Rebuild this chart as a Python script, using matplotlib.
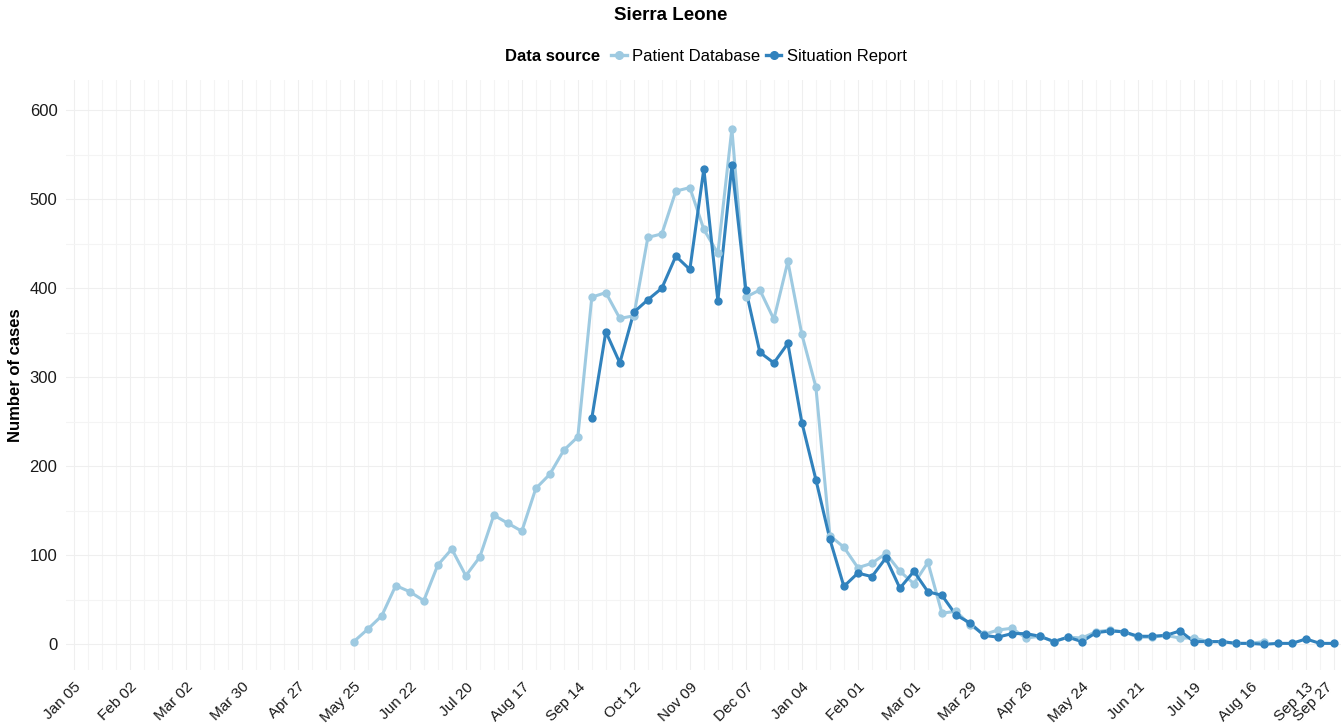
import pandas as pd
import matplotlib
matplotlib.use('Agg')
import matplotlib.pyplot as plt
import matplotlib.dates as mdates
from matplotlib.lines import Line2D
from matplotlib.transforms import ScaledTranslation

plt.rcParams['font.family'] = ['Liberation Sans', 'DejaVu Sans']

# weekly case counts, Sierra Leone
patient_start = '2014-05-25'
patient_db = [3, 17, 32, 66, 59, 49, 89, 107, 77, 98,
              145, 136, 127, 175, 191, 218, 233, 390, 395, 366,
              369, 457, 461, 509, 513, 466, 439, 579, 390, 398,
              365, 430, 348, 289, 122, 109, 86, 91, 102, 82,
              68, 92, 35, 37, 22, 11, 16, 18, 7, 9,
              3, 8, 7, 14, 16, 14, 8, 8, 10, 7,
              7, 3, 3, 1, 1, 3]

sitrep_start = '2014-09-21'
sitrep = [254, 351, 316, 373, 387, 400, 436, 421, 534, 386,
          538, 398, 328, 316, 338, 249, 185, 118, 65, 80,
          76, 97, 63, 82, 59, 55, 33, 24, 10, 8,
          12, 12, 9, 3, 8, 3, 13, 15, 14, 9,
          9, 10, 15, 3, 3, 3, 1, 1, 0, 1,
          1, 6, 1, 1]

tick_dates = list(pd.date_range('2014-01-05', '2015-09-13', freq='28D')) + [pd.Timestamp('2015-09-27')]

light = '#9ecae1'
dark = '#3182bd'

pd_dates = pd.date_range(patient_start, periods=len(patient_db), freq='7D')
sr_dates = pd.date_range(sitrep_start, periods=len(sitrep), freq='7D')

fig = plt.figure(figsize=(13.41, 7.26), dpi=100)
ax = fig.add_axes([0.049, 0.077, 0.951, 0.813])

# lines first, then points (ggplot layering)
ax.plot(pd_dates, patient_db, color=light, lw=2.2, zorder=2, solid_joinstyle='round')
ax.plot(sr_dates, sitrep, color=dark, lw=2.2, zorder=2, solid_joinstyle='round')
ax.plot(pd_dates, patient_db, 'o', color=light, ms=5, zorder=3)
ax.plot(sr_dates, sitrep, 'o', color=dark, ms=5, zorder=3)

ax.set_xlim(pd.Timestamp('2014-01-05') - pd.Timedelta(days=4),
            pd.Timestamp('2015-09-27') + pd.Timedelta(days=3.5))
ax.set_ylim(-29, 634)
ax.set_yticks([0, 100, 200, 300, 400, 500, 600])
ax.set_yticks([50, 150, 250, 350, 450, 550], minor=True)

ax.set_xticks(tick_dates)
ax.set_xticklabels([d.strftime('%b %d') for d in tick_dates], rotation=45,
                   ha='right', rotation_mode='anchor')
ax.xaxis.set_minor_locator(mdates.WeekdayLocator(byweekday=mdates.SU))

ax.grid(True, which='major', color='#efefef', lw=0.8)
ax.grid(True, which='minor', color='#f4f4f4', lw=0.8)
ax.set_axisbelow(True)
for s in ax.spines.values():
    s.set_visible(False)
ax.tick_params(which='both', length=0, colors='#1a1a1a')
ax.tick_params(axis='y', labelsize=12, pad=6)
ax.tick_params(axis='x', labelsize=11, pad=7)
# keep the last label inside the figure
last = ax.get_xticklabels()[-1]
last.set_transform(last.get_transform() + ScaledTranslation(-0.09, 0, fig.dpi_scale_trans))

ax.set_ylabel('Number of cases', fontsize=12, fontweight='bold', labelpad=5)

fig.suptitle('Sierra Leone', x=0.5, y=0.99, fontsize=13.5, fontweight='bold')

fig.text(0.4474, 0.922, 'Data source', ha='right', va='center', fontsize=12, fontweight='bold')
handles = [Line2D([], [], color=light, lw=2.4, marker='o', ms=5.5),
           Line2D([], [], color=dark, lw=2.4, marker='o', ms=5.5)]
fig.legend(handles, ['Patient Database', 'Situation Report'], loc='center left',
           bbox_to_anchor=(0.4555, 0.922), ncol=2, frameon=False, fontsize=12,
           handlelength=0.95, handletextpad=0.35, columnspacing=0.3, borderaxespad=0, borderpad=0)

fig.savefig('out.png', dpi=100)
